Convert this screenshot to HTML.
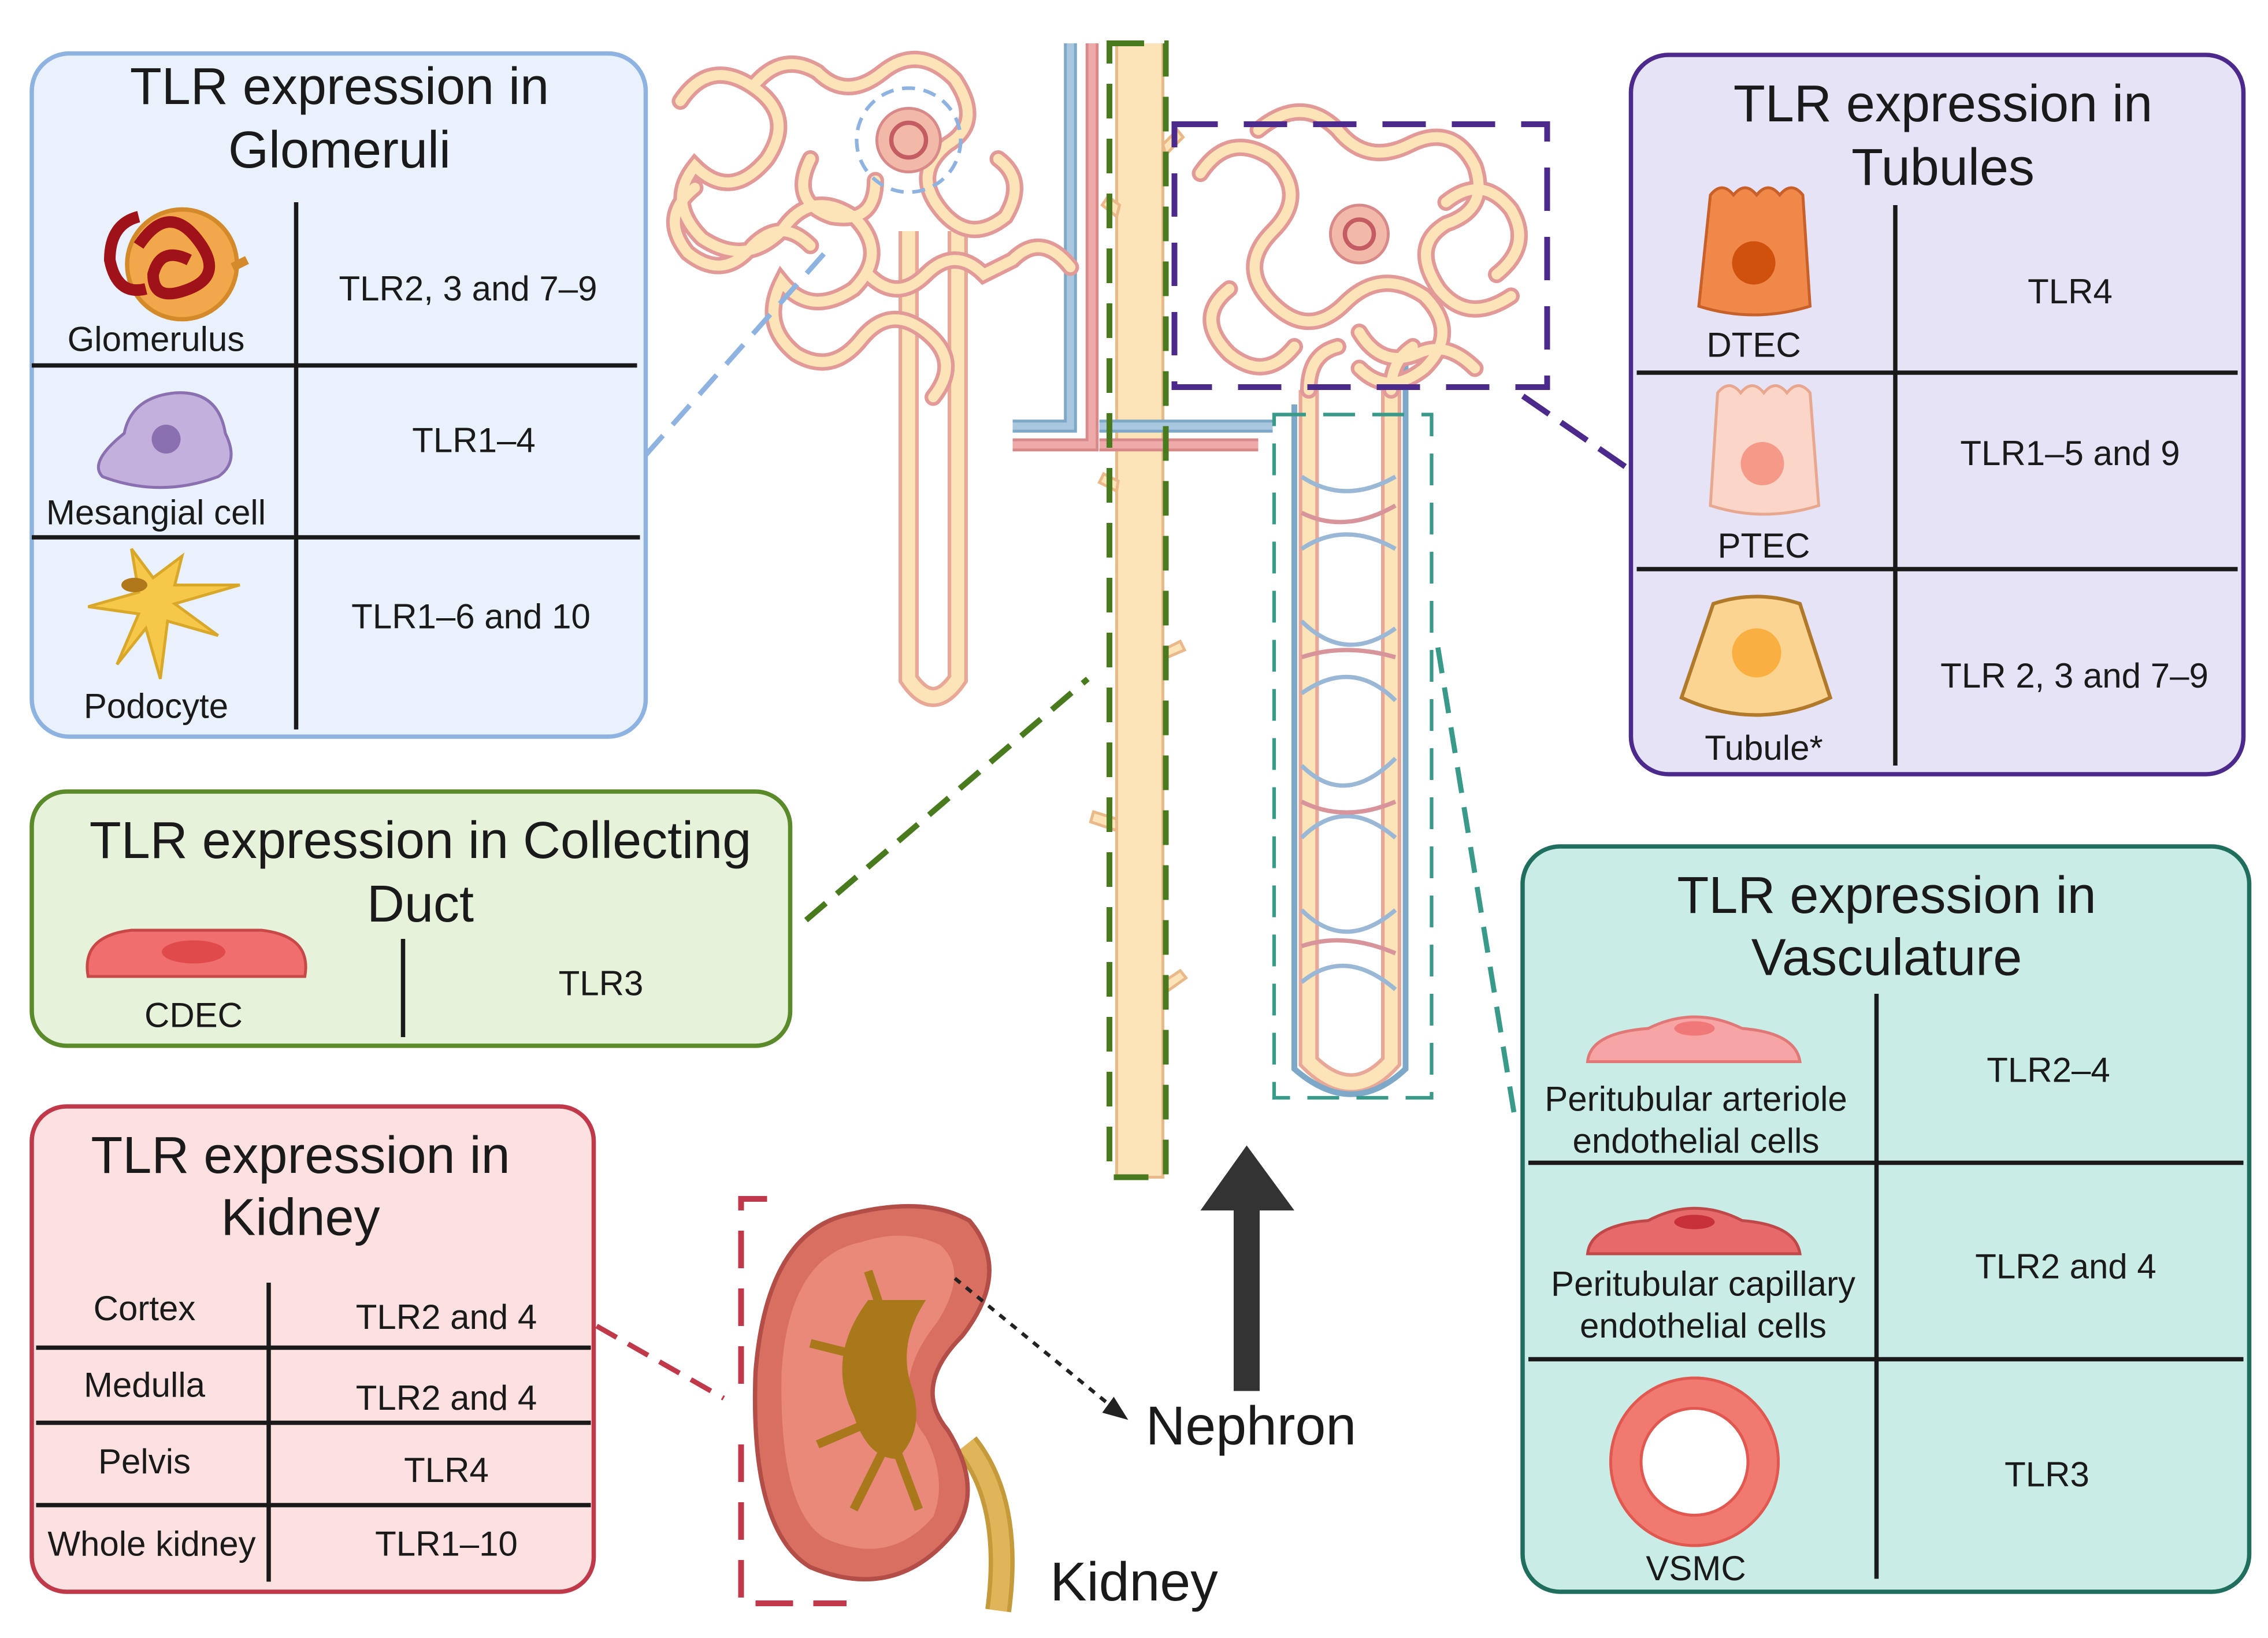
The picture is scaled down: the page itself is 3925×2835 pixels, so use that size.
<!DOCTYPE html>
<html><head><meta charset="utf-8"><style>
html,body{margin:0;padding:0;background:#fff}
svg{display:block}
text{font-family:"Liberation Sans",sans-serif;fill:#1a1a1a}
</style></head><body>
<svg width="3925" height="2835" viewBox="0 0 1568 1134" xmlns="http://www.w3.org/2000/svg">
<defs>
<path id="lc" d="M470 70 q20 -30 50 -10 q30 20 10 50 q-25 30 -50 5 q-20 25 5 50 q30 20 55 -5 q20 -30 50 -10 q25 25 0 50 q-30 20 -50 -5 q-15 30 10 50 q25 15 45 -10 q20 -25 45 -5 q25 20 5 45 M520 60 q20 -25 45 -10 q20 20 45 0 q25 -20 50 5 q20 30 -5 45 q-25 20 -5 45 q20 25 45 5 q15 -25 -5 -40 M480 130 q-25 20 -5 45 q25 20 45 -5 q20 -20 40 0 M560 110 q-15 30 15 40 q30 5 30 -25 M600 190 q20 20 40 0 q20 -20 40 0 l20 -10 q20 -20 40 5"/>
<path id="rc" d="M830 120 q20 -30 50 -10 q25 25 0 50 q-25 25 0 50 q25 25 50 0 q25 -25 55 -5 q25 25 0 50 q-25 20 -45 0 M870 90 q30 -25 55 0 q20 25 50 10 q30 -15 45 15 q10 30 -20 40 q-25 15 -5 45 q20 25 50 5 M1000 140 q25 -20 45 5 q15 25 -10 45 M850 200 q-25 20 0 45 q25 20 45 -5 M940 230 q15 25 40 15 q20 -10 40 10 M905 270 q0 -25 20 -30 M962 270 q0 -20 15 -30"/>
</defs>
<rect width="1568" height="1134" fill="#fff"/>

<!-- collecting duct -->
<path d="M772 30 L772 815 L804 815 L804 30" fill="#fde3b8" stroke="#e9b98a" stroke-width="2"/>
<g stroke="#e9b98a" stroke-width="2" fill="#fde3b8">
<path d="M772 150 l-10 -8 l4 -6 l8 6z"/><path d="M804 100 l10 -10 l4 5 l-12 12z"/>
<path d="M772 340 l-12 -6 l3 -6 l10 5z"/><path d="M804 450 l12 -6 l3 6 l-14 6z"/>
<path d="M772 575 l-18 -6 l2 -7 l16 5z"/><path d="M804 680 l12 -8 l4 5 l-14 10z"/>
</g>
<!-- vessels left -->
<path d="M740 30 L740 295 L700 295" fill="none" stroke="#7ea8c8" stroke-width="9"/>
<path d="M740 30 L740 295 L700 295" fill="none" stroke="#a9c8e0" stroke-width="5"/>
<path d="M755 30 L755 308 L700 308" fill="none" stroke="#d88a8a" stroke-width="9"/>
<path d="M755 30 L755 308 L700 308" fill="none" stroke="#eeaaa8" stroke-width="5"/>
<path d="M760 295 L880 295" stroke="#7ea8c8" stroke-width="9"/>
<path d="M760 295 L880 295" stroke="#a9c8e0" stroke-width="5"/>
<path d="M760 308 L870 308" stroke="#d88a8a" stroke-width="9"/>
<path d="M760 308 L870 308" stroke="#eeaaa8" stroke-width="5"/>
<!-- left loop of Henle -->
<path d="M628 160 L628 470 Q645 495 662 470 L662 160" fill="none" stroke="#e8a898" stroke-width="14"/>
<path d="M628 160 L628 470 Q645 495 662 470 L662 160" fill="none" stroke="#fde3b8" stroke-width="9"/>
<!-- left convoluted cluster -->
<g fill="none" stroke-linecap="round">
<use href="#lc" stroke="#e29a98" stroke-width="12"/>
<use href="#lc" stroke="#fde3b8" stroke-width="7"/>
</g>
<circle cx="628" cy="97" r="22" fill="#f3b9a8" stroke="#d88a8a" stroke-width="2"/>
<circle cx="628" cy="97" r="12" fill="none" stroke="#c45c64" stroke-width="3"/>
<circle cx="628" cy="97" r="36" fill="none" stroke="#8fb3e0" stroke-width="2.5" stroke-dasharray="9 6"/>
<!-- right nephron loop -->
<path d="M905 270 L905 735 Q935 765 962 735 L962 270" fill="none" stroke="#e8a898" stroke-width="14"/>
<path d="M905 270 L905 735 Q935 765 962 735 L962 270" fill="none" stroke="#fde3b8" stroke-width="9"/>
<path d="M895 280 L895 740 Q935 775 972 740 L972 240" fill="none" stroke="#7ea8c8" stroke-width="4"/>
<g fill="none" stroke-width="3">
<path d="M900 330 q30 20 65 0 M900 380 q30 -20 65 0 M900 430 q30 30 65 5 M900 480 q35 -25 65 5 M900 530 q30 30 65 -5 M900 580 q30 -30 65 0 M900 630 q30 30 65 0 M900 680 q30 -25 65 5" stroke="#9ab8d6"/>
<path d="M900 355 q30 15 65 -5 M900 455 q30 -10 65 0 M900 555 q30 15 65 0 M900 655 q30 -10 65 5" stroke="#d7959b"/>
</g>
<!-- right cluster -->
<g fill="none" stroke-linecap="round">
<use href="#rc" stroke="#e29a98" stroke-width="12"/>
<use href="#rc" stroke="#fde3b8" stroke-width="7"/>
</g>
<circle cx="940" cy="162" r="20" fill="#f3b9a8" stroke="#d88a8a" stroke-width="2"/>
<circle cx="940" cy="162" r="10" fill="none" stroke="#c45c64" stroke-width="3"/>
<rect x="767" y="30" width="39" height="785" fill="none" stroke="#4a7a1e" stroke-width="4" stroke-dasharray="24 14"/>
<rect x="812" y="86" width="258" height="182" fill="none" stroke="#4b2a8c" stroke-width="4" stroke-dasharray="30 18"/>
<rect x="881" y="287" width="109" height="473" fill="none" stroke="#3a9a8a" stroke-width="2.5" stroke-dasharray="22 12"/>

<!-- connectors -->
<line x1="446" y1="315" x2="570" y2="175" stroke="#8fb3e0" stroke-width="3.5" stroke-dasharray="18 10"/>
<line x1="557" y1="637" x2="752" y2="470" stroke="#4a7a1e" stroke-width="4" stroke-dasharray="18 10"/>
<line x1="1124" y1="323" x2="1050" y2="272" stroke="#4b2a8c" stroke-width="4" stroke-dasharray="22 10"/>
<line x1="1047" y1="770" x2="993" y2="440" stroke="#3a9a8a" stroke-width="3.5" stroke-dasharray="18 10"/>
<line x1="412" y1="918" x2="500" y2="968" stroke="#c0394a" stroke-width="3.5" stroke-dasharray="16 9"/>

<rect x="853" y="835" width="18" height="128" fill="#333"/>
<polygon points="862,793 895,838 830,838" fill="#333"/>
<text x="865" y="1000" font-size="38" text-anchor="middle">Nephron</text>

<!-- kidney -->
<path d="M530 830 L512 830 L512 960 M512 1000 L512 1110 L585 1110" fill="none" stroke="#c0394a" stroke-width="4" stroke-dasharray="26 14"/>
<path d="M668 1000 Q700 1040 690 1115" fill="none" stroke="#c49a3a" stroke-width="18"/>
<path d="M668 1000 Q700 1040 690 1115" fill="none" stroke="#e0b55a" stroke-width="12"/>
<path d="M590 840 Q530 850 522 950 Q518 1060 560 1085 Q620 1110 660 1060 Q680 1030 655 990 Q630 960 665 925 Q700 880 670 845 Q640 828 590 840Z" fill="#d96f60" stroke="#b34d47" stroke-width="3"/>
<path d="M595 860 Q545 870 540 950 Q538 1045 570 1065 Q615 1085 645 1050 Q655 1025 640 995 Q612 960 648 915 Q670 880 650 862 Q625 850 595 860Z" fill="#e8897a"/>
<path d="M600 900 Q570 940 590 980 Q600 1010 620 1010 Q640 990 630 960 Q620 930 640 900 Z" fill="#a8781a"/>
<path d="M560 930 l40 10 M565 1000 l35 -15 M590 1045 l20 -40 M635 1045 l-15 -40 M600 880 l10 30" stroke="#a8781a" stroke-width="6"/>
<line x1="660" y1="885" x2="770" y2="975" stroke="#222" stroke-width="2.5" stroke-dasharray="5 5"/>
<polygon points="780,983 762,978 770,967" fill="#222"/>
<text x="784" y="1108" font-size="38" text-anchor="middle">Kidney</text>

<!-- Glomeruli box -->
<rect x="21" y="37" width="425" height="473" rx="26" fill="#e8f1fc" stroke="#8fb3e0" stroke-width="3"/>
<text x="234" y="72" font-size="36" text-anchor="middle">TLR expression in</text>
<text x="234" y="116" font-size="36" text-anchor="middle">Glomeruli</text>
<g stroke="#1a1a1a" stroke-width="3"><line x1="204" y1="140" x2="204" y2="505"/><line x1="21" y1="253" x2="440" y2="253"/><line x1="21" y1="372" x2="442" y2="372"/></g>
<circle cx="125" cy="183" r="38" fill="#f2a84a" stroke="#d48a2a" stroke-width="3"/>
<path d="M95 170 q20 -30 40 -5 q20 25 -5 35 q-25 10 -25 -10 q5 -20 25 -10 M100 200 q-20 5 -25 -20 q0 -25 20 -30" fill="none" stroke="#a0121a" stroke-width="8"/>
<path d="M160 185 l10 -5" stroke="#d48a2a" stroke-width="6"/>
<path d="M70 330 Q60 320 85 300 Q90 275 120 272 Q150 270 155 300 Q165 320 150 330 Q110 345 70 330Z" fill="#c4b0dc" stroke="#8a70b0" stroke-width="2"/>
<circle cx="114" cy="304" r="10" fill="#8a70b0"/>
<path d="M90 380 L95 410 L60 420 L95 425 L80 460 L100 435 L110 470 L115 430 L150 440 L120 418 L165 405 L120 405 L125 385 L105 400 Z" fill="#f5c84a" stroke="#d9a82a" stroke-width="2"/>
<ellipse cx="92" cy="405" rx="9" ry="5" fill="#b0781a"/>
<g font-size="24" text-anchor="middle">
<text x="107" y="243">Glomerulus</text><text x="107" y="363">Mesangial cell</text><text x="107" y="497">Podocyte</text>
<text x="323" y="208">TLR2, 3 and 7–9</text><text x="327" y="313">TLR1–4</text><text x="325" y="435">TLR1–6 and 10</text>
</g>

<!-- Collecting duct box -->
<rect x="21" y="548" width="525" height="176" rx="24" fill="#e6f2d9" stroke="#5a8a2a" stroke-width="3"/>
<text x="290" y="594" font-size="36" text-anchor="middle">TLR expression in Collecting</text>
<text x="290" y="638" font-size="36" text-anchor="middle">Duct</text>
<line x1="278" y1="650" x2="278" y2="718" stroke="#1a1a1a" stroke-width="3"/>
<path d="M60 676 Q55 648 90 644 L180 644 Q215 648 210 676 Z" fill="#f06e6e" stroke="#c84848" stroke-width="2"/>
<ellipse cx="133" cy="659" rx="22" ry="8" fill="#e04a4a"/>
<text x="133" y="711" font-size="24" text-anchor="middle">CDEC</text>
<text x="415" y="689" font-size="24" text-anchor="middle">TLR3</text>

<!-- Kidney box -->
<rect x="21" y="766" width="389" height="336" rx="24" fill="#fde0e0" stroke="#c0394a" stroke-width="3"/>
<text x="207" y="812" font-size="36" text-anchor="middle">TLR expression in</text>
<text x="207" y="855" font-size="36" text-anchor="middle">Kidney</text>
<g stroke="#1a1a1a" stroke-width="3"><line x1="185" y1="888" x2="185" y2="1095"/><line x1="24" y1="933" x2="408" y2="933"/><line x1="24" y1="985" x2="408" y2="985"/><line x1="24" y1="1042" x2="408" y2="1042"/></g>
<g font-size="24" text-anchor="middle">
<text x="99" y="914">Cortex</text><text x="308" y="920">TLR2 and 4</text>
<text x="99" y="967">Medulla</text><text x="308" y="976">TLR2 and 4</text>
<text x="99" y="1020">Pelvis</text><text x="308" y="1026">TLR4</text>
<text x="104" y="1077">Whole kidney</text><text x="308" y="1077">TLR1–10</text>
</g>

<!-- Tubules box -->
<rect x="1128" y="38" width="424" height="498" rx="26" fill="#e6e3f7" stroke="#4b2a8c" stroke-width="3"/>
<text x="1344" y="84" font-size="36" text-anchor="middle">TLR expression in</text>
<text x="1344" y="128" font-size="36" text-anchor="middle">Tubules</text>
<g stroke="#1a1a1a" stroke-width="3"><line x1="1311" y1="142" x2="1311" y2="530"/><line x1="1132" y1="258" x2="1548" y2="258"/><line x1="1132" y1="394" x2="1548" y2="394"/></g>
<path d="M1183 135 q8 -10 16 0 q8 -10 16 0 q8 -10 16 0 q8 -10 16 0 L1252 212 Q1213 224 1175 212 Z" fill="#f0884a" stroke="#c8602a" stroke-width="2"/>
<circle cx="1213" cy="182" r="15" fill="#d0500e"/>
<path d="M1188 272 q8 -10 16 0 q8 -10 16 0 q8 -10 16 0 q8 -10 16 0 L1258 350 Q1220 362 1183 350 Z" fill="#fbd6c8" stroke="#e8a890" stroke-width="2"/>
<circle cx="1219" cy="321" r="15" fill="#f59a88"/>
<path d="M1185 418 Q1215 408 1245 418 L1266 483 Q1215 507 1163 483 Z" fill="#fcd492" stroke="#b07a2a" stroke-width="2.5"/>
<circle cx="1215" cy="452" r="17" fill="#f9b040"/>
<g font-size="24" text-anchor="middle">
<text x="1213" y="247">DTEC</text><text x="1432" y="210">TLR4</text>
<text x="1220" y="386">PTEC</text><text x="1432" y="322">TLR1–5 and 9</text>
<text x="1220" y="526">Tubule*</text><text x="1435" y="476">TLR 2, 3 and 7–9</text>
</g>

<!-- Vasculature box -->
<rect x="1053" y="586" width="503" height="516" rx="26" fill="#c9ece6" stroke="#1f6e5e" stroke-width="3"/>
<text x="1305" y="632" font-size="36" text-anchor="middle">TLR expression in</text>
<text x="1305" y="675" font-size="36" text-anchor="middle">Vasculature</text>
<g stroke="#1a1a1a" stroke-width="3"><line x1="1298" y1="688" x2="1298" y2="1093"/><line x1="1057" y1="805" x2="1552" y2="805"/><line x1="1057" y1="941" x2="1552" y2="941"/></g>
<path d="M1098 735 Q1100 715 1140 712 Q1172 696 1205 712 Q1242 715 1245 735 Z" fill="#f7a4a4" stroke="#e07878" stroke-width="2"/>
<ellipse cx="1172" cy="712" rx="14" ry="5" fill="#f07878"/>
<path d="M1098 868 Q1100 848 1140 845 Q1172 828 1205 845 Q1242 848 1245 868 Z" fill="#e66a6a" stroke="#c04848" stroke-width="2"/>
<ellipse cx="1172" cy="846" rx="14" ry="5" fill="#c8303a"/>
<circle cx="1172" cy="1012" r="48" fill="none" stroke="#f07a70" stroke-width="22"/>
<circle cx="1172" cy="1012" r="58" fill="none" stroke="#e05850" stroke-width="2"/>
<circle cx="1172" cy="1012" r="37" fill="#fff" stroke="#e05850" stroke-width="2"/>
<g font-size="24" text-anchor="middle">
<text x="1173" y="769">Peritubular arteriole</text><text x="1173" y="798">endothelial cells</text><text x="1417" y="749">TLR2–4</text>
<text x="1178" y="897">Peritubular capillary</text><text x="1178" y="926">endothelial cells</text><text x="1429" y="885">TLR2 and 4</text>
<text x="1173" y="1094">VSMC</text><text x="1416" y="1029">TLR3</text>
</g>
</svg>
</body></html>
